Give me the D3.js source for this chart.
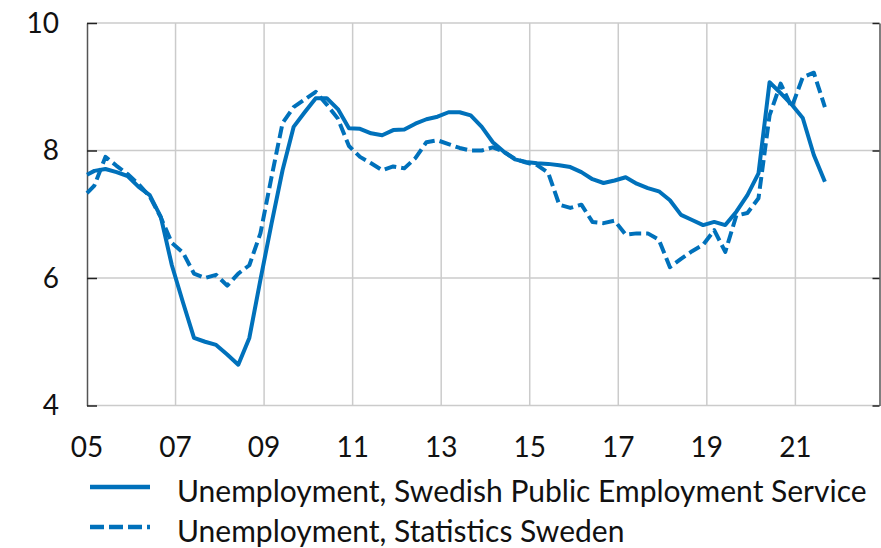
<!DOCTYPE html>
<html>
<head>
<meta charset="utf-8">
<script src="https://cdn.jsdelivr.net/npm/d3@7"></script>
<style>
  body { margin: 0; background: #fff; }
  text { font-family: Lato, "Liberation Sans", sans-serif; fill: #111; }
</style>
</head>
<body>
<div id="chart"></div>
<script>
// quarterly readings (last month of each quarter), first point Jan 2005
const periods = [
  "2005-01", "2005-03", "2005-06", "2005-09", "2005-12",
  "2006-03", "2006-06", "2006-09", "2006-12",
  "2007-03", "2007-06", "2007-09", "2007-12",
  "2008-03", "2008-06", "2008-09", "2008-12",
  "2009-03", "2009-06", "2009-09", "2009-12",
  "2010-03", "2010-06", "2010-09", "2010-12",
  "2011-03", "2011-06", "2011-09", "2011-12",
  "2012-03", "2012-06", "2012-09", "2012-12",
  "2013-03", "2013-06", "2013-09", "2013-12",
  "2014-03", "2014-06", "2014-09", "2014-12",
  "2015-03", "2015-06", "2015-09", "2015-12",
  "2016-03", "2016-06", "2016-09", "2016-12",
  "2017-03", "2017-06", "2017-09", "2017-12",
  "2018-03", "2018-06", "2018-09", "2018-12",
  "2019-03", "2019-06", "2019-09", "2019-12",
  "2020-03", "2020-06", "2020-09", "2020-12",
  "2021-03", "2021-06", "2021-09"
];

const pesValues = [
  7.62, 7.68, 7.71, 7.66, 7.60,
  7.43, 7.30, 6.96, 6.20,
  5.62, 5.06, 5.00, 4.95,
  4.80, 4.64, 5.06, 5.97,
  6.85, 7.69, 8.37, 8.60,
  8.82, 8.82, 8.65, 8.35,
  8.34, 8.27, 8.24, 8.32,
  8.33, 8.42, 8.49, 8.53,
  8.60, 8.60, 8.55, 8.37,
  8.13, 7.98, 7.86, 7.82,
  7.80, 7.79, 7.77, 7.74,
  7.66, 7.55, 7.49, 7.53,
  7.58, 7.48, 7.41, 7.36,
  7.22, 6.99, 6.91, 6.83,
  6.88, 6.83, 7.04, 7.30,
  7.64, 9.07, 8.90, 8.72,
  8.51, 7.93, 7.51
];

const scbValues = [
  7.33, 7.45, 7.90, 7.76, 7.63,
  7.47, 7.28, 6.95, 6.55,
  6.40, 6.07, 6.00, 6.05,
  5.88, 6.07, 6.20, 6.70,
  7.58, 8.43, 8.68, 8.80,
  8.92, 8.72, 8.50, 8.07,
  7.90, 7.80, 7.69, 7.75,
  7.72, 7.88, 8.13, 8.16,
  8.10, 8.04, 8.00, 8.00,
  8.05, 7.98, 7.87, 7.81,
  7.77, 7.65, 7.15, 7.10,
  7.15, 6.88, 6.86, 6.90,
  6.68, 6.70, 6.70, 6.60,
  6.17, 6.30, 6.42, 6.52,
  6.75, 6.41, 6.98, 7.02,
  7.25, 8.55, 9.05, 8.68,
  9.15, 9.22, 8.68
];

const xTickYears = [2005, 2007, 2009, 2011, 2013, 2015, 2017, 2019, 2021];
const xTickLabels = ["05", "07", "09", "11", "13", "15", "17", "19", "21"];
const yTicks = [4, 6, 8, 10];

const seriesNames = [
  "Unemployment, Swedish Public Employment Service",
  "Unemployment, Statistics Sweden"
];

const width = 881, height = 548;
const plot = { left: 87, right: 879.5, top: 23, bottom: 405.5 };
const blue = "#0071bb";

const toYear = p => +p.slice(0, 4) + (+p.slice(5, 7) - 1) / 12;

const x = d3.scaleLinear().domain([2005, 2022.9]).range([plot.left, plot.right]);
const y = d3.scaleLinear().domain([4, 10]).range([plot.bottom, plot.top]);

const svg = d3.select("#chart")
  .append("svg")
  .attr("width", width)
  .attr("height", height);

// grid
svg.append("g")
  .selectAll("line")
  .data(xTickYears.slice(1))
  .enter()
  .append("line")
  .attr("x1", d => x(d)).attr("x2", d => x(d))
  .attr("y1", plot.top).attr("y2", plot.bottom)
  .attr("stroke", "#cbcbcb").attr("stroke-width", 1.5);

svg.append("g")
  .selectAll("line")
  .data(yTicks)
  .enter()
  .append("line")
  .attr("x1", plot.left).attr("x2", plot.right)
  .attr("y1", d => y(d)).attr("y2", d => y(d))
  .attr("stroke", "#cbcbcb").attr("stroke-width", 1.5);

// left / right axes with inward ticks
const yAxisL = svg.append("g")
  .attr("transform", `translate(${plot.left},0)`)
  .call(d3.axisRight(y).tickValues(yTicks).tickSize(10).tickSizeOuter(0).tickFormat(""));
const yAxisR = svg.append("g")
  .attr("transform", `translate(${plot.right},0)`)
  .call(d3.axisLeft(y).tickValues(yTicks).tickSize(7).tickSizeOuter(0).tickFormat(""));
[yAxisL, yAxisR].forEach(g => {
  g.select(".domain").attr("stroke", "#555").attr("stroke-width", 1.5);
  g.selectAll(".tick line").attr("stroke", "#222").attr("stroke-width", 1.5);
});

// tick labels
svg.append("g")
  .selectAll("text")
  .data(yTicks)
  .enter()
  .append("text")
  .attr("x", 59)
  .attr("y", d => y(d))
  .attr("dy", "0.35em")
  .attr("text-anchor", "end")
  .attr("font-size", 28)
  .text(d => d);

svg.append("g")
  .selectAll("text")
  .data(xTickYears)
  .enter()
  .append("text")
  .attr("x", d => x(d))
  .attr("y", 457)
  .attr("text-anchor", "middle")
  .attr("font-size", 28)
  .text((d, i) => xTickLabels[i]);

// lines
const line = d3.line()
  .x((d, i) => x(toYear(periods[i])))
  .y(d => y(d));

svg.append("path")
  .datum(pesValues)
  .attr("d", line)
  .attr("fill", "none")
  .attr("stroke", blue)
  .attr("stroke-width", 4)
  .attr("stroke-linejoin", "round");

svg.append("path")
  .datum(scbValues)
  .attr("d", line)
  .attr("fill", "none")
  .attr("stroke", blue)
  .attr("stroke-width", 4)
  .attr("stroke-dasharray", "12,5")
  .attr("stroke-linejoin", "round");

// legend
const legend = svg.append("g")
  .selectAll("g")
  .data(seriesNames)
  .enter()
  .append("g")
  .attr("transform", (d, i) => `translate(0,${487 + i * 40})`);

legend.append("line")
  .attr("x1", 90).attr("x2", 150)
  .attr("stroke", blue)
  .attr("stroke-width", 4.5)
  .attr("stroke-dasharray", (d, i) => i === 1 ? "14,5" : null);

legend.append("text")
  .attr("x", 177)
  .attr("y", 15)
  .attr("font-size", 30)
  .text(d => d);
</script>
</body>
</html>
